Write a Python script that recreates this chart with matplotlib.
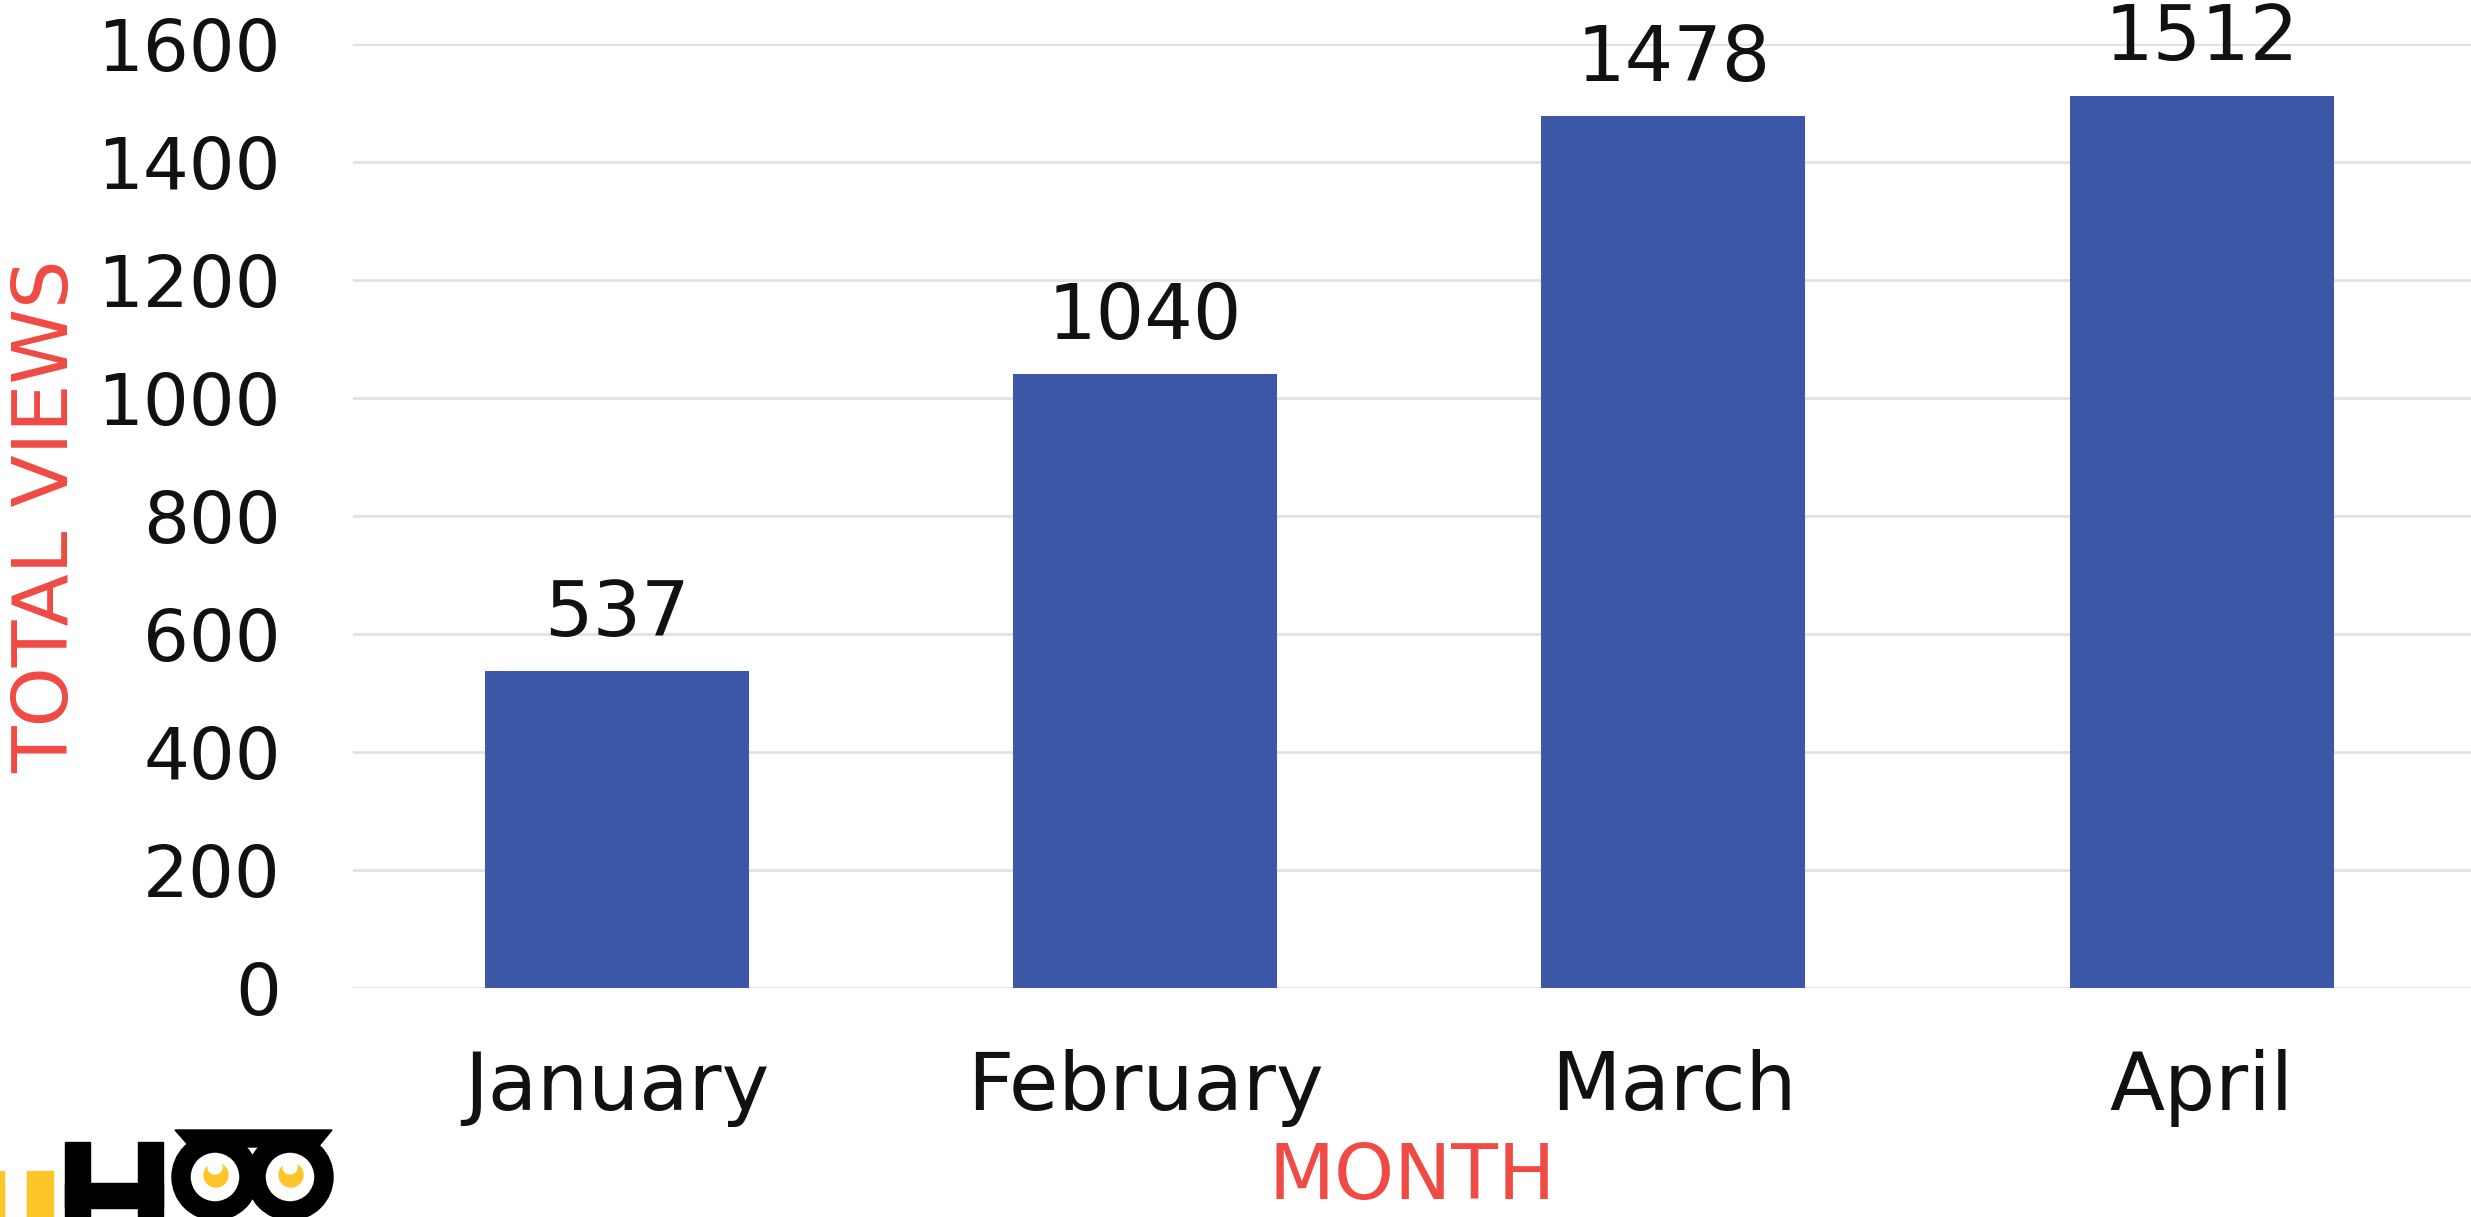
import matplotlib.pyplot as plt
from matplotlib.patches import Rectangle, Circle, Polygon

# --- DATA ---
months = ["January", "February", "March", "April"]
views = [537, 1040, 1478, 1512]
yticks = [0, 200, 400, 600, 800, 1000, 1200, 1400, 1600]

BAR_COLOR = "#3C57A8"
RED = "#EF4A43"
FONT = "DejaVu Sans"

plt.rcParams["font.family"] = FONT

fig = plt.figure(figsize=(24.71, 12.17), dpi=100)
ax = fig.add_axes([353 / 2471, 1 - 988 / 1217, 1 - 353 / 2471, (988 - 44) / 1217])

x = range(len(months))
bars = ax.bar(x, views, width=0.5, color=BAR_COLOR, zorder=3)
ax.bar_label(bars, labels=[str(v) for v in views], padding=14, fontsize=55, color="#111111")

ax.set_xlim(-0.5, 3.51)
ax.set_ylim(0, 1600)
ax.set_yticks(yticks)
ax.set_xticks(list(x))
ax.set_xticklabels(months)
ax.tick_params(axis="both", length=0, colors="#111111")
ax.tick_params(axis="y", pad=52, labelsize=52)
ax.tick_params(axis="x", pad=44, labelsize=58)
ax.grid(axis="y", color="#E2E2E2", linewidth=2, zorder=0)
for s in ax.spines.values():
    s.set_visible(False)

fig.text(1412 / 2471, 1 - 1215 / 1217, "MONTH", ha="center", va="bottom", fontsize=55, color=RED)
fig.text(47 / 2471, 1 - 516 / 1217, "TOTAL VIEWS", ha="center", va="center", rotation=90, fontsize=55, color=RED)

# --- logo watermark (bottom left, cut off) ---
ov = fig.add_axes([0, 0, 1, 1], zorder=5)
ov.set_xlim(0, 2471)
ov.set_ylim(1217, 0)
ov.axis("off")
ov.patch.set_alpha(0)
YEL = "#FFC629"
ov.add_patch(Rectangle((0, 1171), 4, 50, color=YEL))
ov.add_patch(Rectangle((27, 1171), 26, 50, color=YEL))
ov.add_patch(Rectangle((65, 1142), 25, 80, color="black"))
ov.add_patch(Rectangle((138, 1142), 25, 80, color="black"))
ov.add_patch(Rectangle((65, 1183), 98, 25, color="black"))
ov.add_patch(Polygon([(175, 1130), (332, 1130), (318, 1147), (190, 1147)], color="black"))
for cx in (215, 290):
    ov.add_patch(Circle((cx, 1177), 34, fill=False, edgecolor="black", linewidth=14))
    ov.add_patch(Circle((cx + 1, 1175), 12, color=YEL))
    ov.add_patch(Circle((cx, 1167), 7, color="white"))

fig.savefig("out.png", dpi=100)
